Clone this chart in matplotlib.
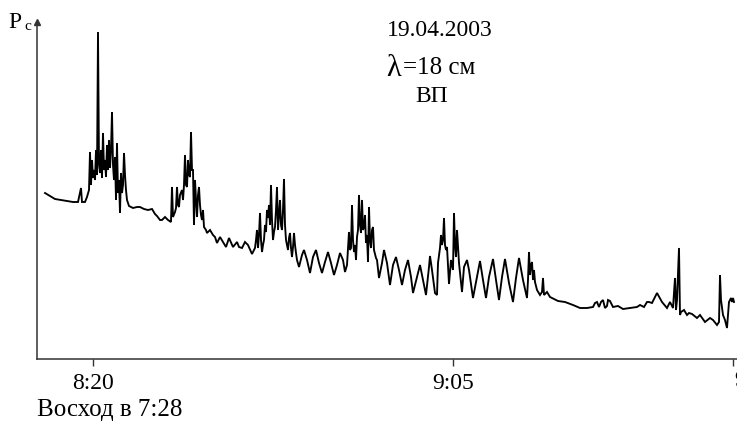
import matplotlib
matplotlib.use("Agg")
import matplotlib.pyplot as plt

# time in minutes after 8:00, Pc in relative units
t = [14.0, 14.625, 15.25, 16.0, 16.75, 17.5, 18.125, 18.5, 18.625, 19.0, 19.25, 19.5, 19.625, 19.75, 19.875,
     20.0, 20.125, 20.25, 20.375, 20.5, 20.625, 20.75, 20.875, 21.0, 21.125, 21.25, 21.375, 21.5, 21.625, 21.75,
     21.875, 22.0, 22.125, 22.25, 22.375, 22.5, 22.625, 22.75, 22.875, 23.0, 23.125, 23.25, 23.375, 23.5, 23.625,
     23.75, 23.875, 24.0, 24.125, 24.25, 24.5, 24.75, 25.0, 25.5, 25.875, 26.375, 26.875, 27.375, 27.75, 28.0,
     28.375, 28.625, 29.0, 29.375, 29.75, 29.875, 30.0, 30.25, 30.375, 30.5, 30.625, 30.75, 30.875, 31.125, 31.25,
     31.375, 31.5, 31.625, 31.75, 31.875, 32.0, 32.125, 32.25, 32.375, 32.5, 32.625, 32.75, 32.875, 33.0, 33.125,
     33.25, 33.375, 33.5, 33.625, 33.75, 33.875, 34.125, 34.25, 34.625, 35.0, 35.25, 35.5, 35.875, 36.25, 36.625,
     37.0, 37.5, 38.0, 38.25, 38.625, 39.0, 39.375, 39.875, 40.25, 40.375, 40.5, 40.625, 40.75, 40.875, 41.0,
     41.125, 41.25, 41.375, 41.5, 41.625, 41.75, 41.875, 42.0, 42.125, 42.25, 42.375, 42.5, 42.625, 42.75, 42.875,
     43.0, 43.125, 43.25, 43.375, 43.5, 43.625, 43.75, 43.875, 44.0, 44.125, 44.25, 44.375, 44.5, 44.625, 44.75,
     44.875, 45.0, 45.125, 45.25, 45.375, 45.5, 45.75, 46.125, 46.375, 46.75, 47.125, 47.5, 47.875, 48.25, 48.625,
     49.0, 49.375, 49.75, 50.125, 50.5, 50.875, 51.25, 51.5, 51.75, 51.875, 52.0, 52.125, 52.25, 52.375, 52.5,
     52.625, 52.75, 52.875, 53.0, 53.125, 53.25, 53.375, 53.5, 53.625, 53.75, 53.875, 54.0, 54.125, 54.25, 54.375,
     54.5, 54.625, 54.75, 54.875, 55.0, 55.125, 55.375, 55.5, 55.75, 56.125, 56.375, 56.75, 57.125, 57.5, 57.875,
     58.25, 58.625, 59.0, 59.375, 59.75, 60.0, 60.5, 60.875, 61.25, 61.625, 62.0, 62.125, 62.375, 62.75, 63.0,
     63.125, 63.375, 63.5, 63.625, 63.75, 63.875, 64.0, 64.125, 64.25, 64.5, 64.75, 64.875, 65.0, 65.125, 65.25,
     65.375, 65.5, 65.75, 66.125, 66.375, 66.75, 67.0, 67.5, 68.0, 68.375, 68.75, 69.125, 69.5, 70.0, 70.375,
     70.75, 71.125, 71.5, 72.0, 72.5, 72.875, 73.25, 73.75, 74.25, 74.375, 74.5, 74.625, 74.75, 74.875, 75.0,
     75.125, 75.25, 75.5, 75.875, 76.125, 76.25, 76.375, 76.75, 77.125, 77.375, 78.125, 79.0, 80.0, 80.875, 81.75,
     82.5, 82.75, 83.0, 83.25, 83.5, 83.75, 84.0, 84.25, 84.375, 84.625, 85.0, 85.625, 86.25, 87.125, 88.0,
     88.375, 88.875, 89.25, 89.5, 89.875, 90.5, 91.125, 91.75, 92.125, 92.5, 92.75, 92.875, 93.0, 93.25, 93.375,
     93.5, 93.875, 94.25, 94.5, 94.875, 95.5, 95.875, 96.5, 97.125, 97.5, 98.0, 98.25, 98.375, 98.5, 98.75,
     99.0, 99.25, 99.5, 99.75, 99.875, 100.0, 100.125]

pc = [166, 163, 160, 159, 158, 157, 157, 171, 157, 157, 162, 169, 207, 174, 199,
      181, 189, 179, 209, 184, 327, 194, 186, 209, 181, 226, 189, 199, 182, 214,
      189, 219, 191, 209, 247, 194, 179, 202, 159, 216, 166, 179, 146, 186, 166,
      174, 206, 184, 169, 159, 153, 152, 151, 152, 152, 150, 149, 150, 145, 143,
      139, 139, 142, 139, 137, 172, 142, 147, 151, 172, 154, 152, 164, 169, 159,
      174, 204, 174, 172, 199, 184, 182, 227, 189, 189, 134, 179, 159, 142, 164,
      172, 154, 144, 139, 149, 132, 129, 126, 129, 124, 122, 116, 122, 117, 112,
      121, 112, 117, 112, 111, 117, 114, 105, 111, 119, 129, 111, 124, 146, 119,
      107, 114, 119, 134, 127, 149, 141, 154, 134, 174, 139, 119, 127, 132, 149,
      172, 129, 144, 159, 134, 129, 149, 180, 134, 119, 114, 109, 121, 126, 111,
      102, 112, 126, 114, 106, 99, 92, 104, 109, 99, 86, 102, 109, 96, 86,
      97, 107, 96, 84, 94, 106, 99, 87, 94, 111, 127, 109, 111, 154, 119,
      107, 114, 99, 122, 129, 164, 134, 126, 159, 129, 132, 144, 116, 124, 97,
      152, 119, 111, 129, 132, 109, 101, 99, 81, 96, 109, 96, 74, 94, 102,
      89, 74, 89, 99, 82, 66, 82, 94, 79, 64, 92, 103, 89, 66, 64,
      96, 111, 124, 114, 119, 141, 114, 109, 112, 75, 99, 94, 89, 146, 114,
      102, 129, 96, 67, 92, 99, 89, 61, 82, 98, 79, 61, 82, 100, 79,
      59, 82, 100, 76, 57, 81, 101, 79, 61, 79, 107, 84, 94, 97, 79,
      89, 77, 69, 64, 67, 81, 64, 67, 62, 61, 58, 57, 54, 51, 51,
      52, 56, 57, 52, 57, 59, 51, 53, 59, 58, 52, 53, 50, 51, 52,
      54, 52, 57, 57, 56, 66, 57, 51, 57, 51, 81, 49, 59, 111, 44,
      47, 49, 44, 46, 45, 41, 44, 37, 41, 39, 34, 37, 84, 59, 44,
      39, 31, 57, 61, 57, 61, 57]

tick_pos = [20, 65, 100]
tick_labels = ["8:20", "9:05", ""]

W, H = 737, 429
fig = plt.figure(figsize=(W / 100, H / 100), dpi=100)
fig.patch.set_facecolor("white")
ax = fig.add_axes([37 / W, (H - 359) / H, 700 / W, (359 - 22) / H])
ax.plot(t, pc, color="black", lw=1.35, solid_joinstyle="miter")
ax.set_xlim(13.0, 100.5)
ax.set_ylim(0, 337)

for s in ["top", "right"]:
    ax.spines[s].set_visible(False)
for s in ["left", "bottom"]:
    ax.spines[s].set_color("#333333")
    ax.spines[s].set_linewidth(1.1)

serif = ["Liberation Serif", "DejaVu Serif"]
ax.set_yticks([])
ax.set_xticks(tick_pos)
ax.set_xticklabels(tick_labels, fontsize=17, family=serif)
ax.tick_params(axis="x", direction="out", length=5, width=1.0, color="#333333", pad=5)

# arrow on y axis
ax.plot([0], [1.0], marker="^", markersize=4, color="#333333", transform=ax.transAxes, clip_on=False)

# texts
fig.text(8 / W, 1 - 22 / H, "P", fontsize=17, family=serif, va="center", ha="left")
fig.text(24 / W, 1 - 27 / H, "c", fontsize=11, family=serif, va="center", ha="left")
fig.text(440 / W, 1 - 31 / H, "19.04.2003", fontsize=17, family=serif, ha="center", va="center")
fig.text(401 / W, 1 - 69 / H, "λ", fontsize=22, family=serif, ha="right", va="center")
fig.text(403 / W, 1 - 68 / H, "=18 см", fontsize=18, family=serif, ha="left", va="center")
fig.text(432 / W, 1 - 96 / H, "ВП", fontsize=17, family=serif, ha="center", va="center")
fig.text(37 / W, 1 - 410 / H, "Восход в 7:28", fontsize=18, family=serif, ha="left", va="center")
fig.text(734.5 / W, 1 - 380 / H, "9:40", fontsize=17, family=serif, ha="left", va="center")

fig.savefig("out.png", dpi=100, facecolor="white")
